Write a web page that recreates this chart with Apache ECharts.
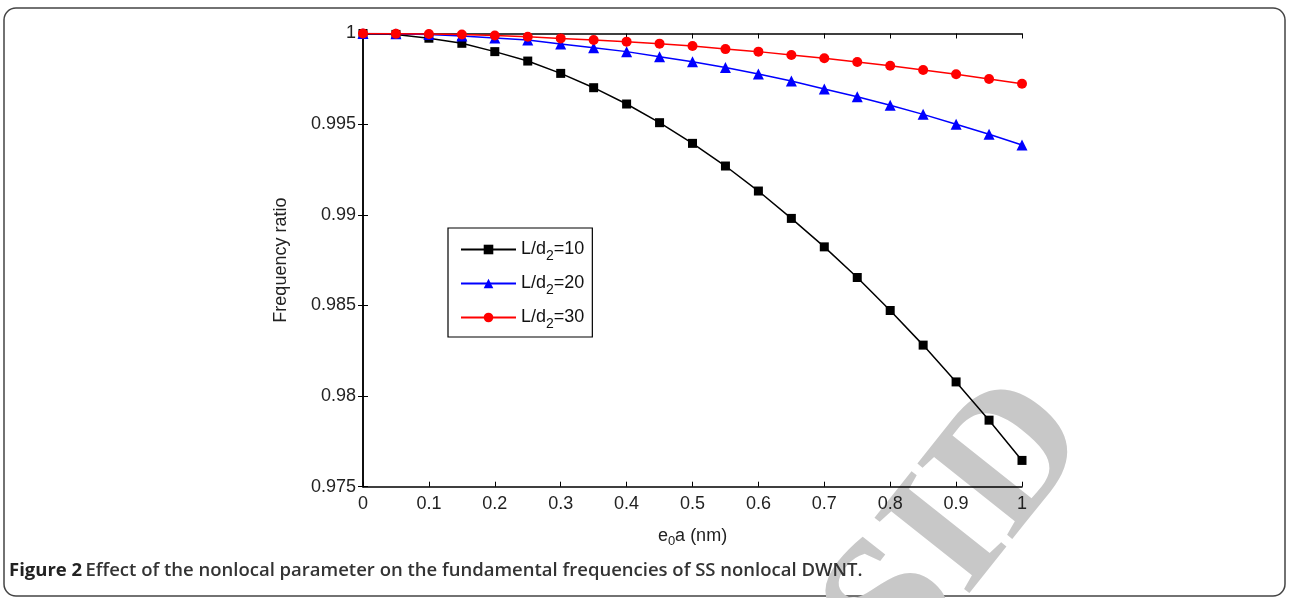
<!DOCTYPE html>
<html>
<head>
<meta charset="utf-8">
<script src="https://cdn.jsdelivr.net/npm/echarts@6/dist/echarts.min.js"></script>
<style>
  html, body { margin: 0; padding: 0; background: #fff; }
  #chart { width: 1289px; height: 598px; }
</style>
</head>
<body>
<div id="chart"></div>
<script>
// e0a (nm)
const xs = [0, 0.05, 0.1, 0.15, 0.2, 0.25, 0.3, 0.35, 0.4, 0.45, 0.5,
            0.55, 0.6, 0.65, 0.7, 0.75, 0.8, 0.85, 0.9, 0.95, 1];
// frequency ratio, L/d2 = 10
const ratio10 = [1, 0.99995, 0.99974, 0.99946, 0.99900, 0.99848, 0.99780, 0.99701, 0.99611, 0.99508, 0.99394,
                 0.99269, 0.99131, 0.98980, 0.98823, 0.98654, 0.98472, 0.98281, 0.98078, 0.97867, 0.97645];
// L/d2 = 20
const ratio20 = [1, 0.99998, 0.99994, 0.99986, 0.99975, 0.99964, 0.99942, 0.99922, 0.99900, 0.99872, 0.99844,
                 0.99813, 0.99776, 0.99738, 0.99694, 0.99651, 0.99604, 0.99554, 0.99499, 0.99444, 0.99385];
// L/d2 = 30
const ratio30 = [1, 0.99999, 0.99997, 0.99994, 0.99989, 0.99982, 0.99973, 0.99964, 0.99955, 0.99944, 0.99931,
                 0.99914, 0.99900, 0.99881, 0.99863, 0.99843, 0.99822, 0.99799, 0.99775, 0.99749, 0.99723];
const seriesNames = ['L/d2=10', 'L/d2=20', 'L/d2=30'];
const legendLabels = ['{a|L/d}{s|2}{a|=10}', '{a|L/d}{s|2}{a|=20}', '{a|L/d}{s|2}{a|=30}'];

const font = 'Liberation Sans, Arial, sans-serif';
const pairs = (ys) => xs.map((x, i) => [x, ys[i]]);

let chart = echarts.init(document.getElementById('chart'));

const axisCommon = {
    axisLine: { show: true, lineStyle: { color: '#000', width: 1.5 } },
    axisTick: { show: true, inside: true, length: 5, lineStyle: { color: '#000', width: 1 } },
    splitLine: { show: false }
};

const lineSeries = (name, ys, color, symbol, size) => ({
    name: name,
    type: 'line',
    data: pairs(ys),
    symbol: symbol,
    symbolSize: size,
    showSymbol: true,
    z: 3,
    lineStyle: { color: color, width: 1.5 },
    itemStyle: { color: color },
    animation: false
});

chart.setOption({
    animation: false,
    backgroundColor: '#fff',
    grid: { left: 363, right: 267, top: 33.5, bottom: 111.3 },
    legend: {
        orient: 'vertical',
        left: 448,
        top: 228,
        padding: [8, 8, 6, 12],
        borderColor: '#000',
        borderWidth: 1.2,
        backgroundColor: '#fff',
        itemWidth: 55,
        itemHeight: 12,
        itemGap: 7,
        data: seriesNames,
        formatter: (name) => legendLabels[seriesNames.indexOf(name)],
        textStyle: {
            color: '#111',
            fontFamily: font,
            fontSize: 18,
            lineHeight: 20,
            rich: {
                a: { fontFamily: font, fontSize: 18, color: '#111', lineHeight: 20 },
                s: { fontFamily: font, fontSize: 14, color: '#111', padding: [13, 0, 0, 0], lineHeight: 20 }
            }
        }
    },
    xAxis: [
        Object.assign({
            type: 'value', min: 0, max: 1, interval: 0.1, position: 'bottom',
            name: '{a|e}{s|0}{a|a (nm)}', nameLocation: 'middle', nameGap: 37,
            nameTextStyle: {
                rich: {
                    a: { fontFamily: font, fontSize: 18, color: '#222' },
                    s: { fontFamily: font, fontSize: 13, color: '#222', padding: [11, 0, 0, 0] }
                }
            },
            axisLabel: {
                color: '#222', fontFamily: font, fontSize: 18, margin: 8,
                formatter: (v) => String(parseFloat(v.toFixed(2)))
            }
        }, axisCommon),
        Object.assign({
            type: 'value', min: 0, max: 1, interval: 0.1, position: 'top',
            axisLabel: { show: false }
        }, axisCommon)
    ],
    yAxis: [
        Object.assign({
            type: 'value', min: 0.975, max: 1, interval: 0.005, position: 'left',
            name: 'Frequency ratio', nameLocation: 'middle', nameGap: 73,
            nameTextStyle: { fontFamily: font, fontSize: 18, color: '#222' },
            axisLabel: {
                color: '#222', fontFamily: font, fontSize: 18, margin: 7,
                formatter: (v) => String(parseFloat(v.toFixed(3)))
            }
        }, axisCommon),
        Object.assign({
            type: 'value', min: 0.975, max: 1, interval: 0.005, position: 'right',
            axisLabel: { show: false }
        }, axisCommon)
    ],
    series: [
        lineSeries(seriesNames[0], ratio10, '#000', 'rect', 9),
        lineSeries(seriesNames[1], ratio20, '#0000ff', 'triangle', 11),
        lineSeries(seriesNames[2], ratio30, '#ff0000', 'circle', 10)
    ],
    graphic: [
        {
            type: 'rect', z: -10, silent: true,
            shape: { x: 4, y: 8, width: 1281, height: 588, r: 12 },
            style: { fill: 'none', stroke: '#444', lineWidth: 1.5 }
        },
        {
            type: 'text', z: -5, silent: true,
            x: 960, y: 528, rotation: 0.9,
            style: {
                text: 'SID', fill: '#c8c8c8', fontFamily: 'Liberation Serif, serif',
                fontSize: 185, fontWeight: 'bold', align: 'center', verticalAlign: 'middle'
            }
        },
        {
            type: 'text', silent: true,
            left: 9, top: 561,
            style: {
                text: '{b|Figure 2} {r|Effect of the nonlocal parameter on the fundamental frequencies of SS nonlocal DWNT.}',
                rich: {
                    b: { fontFamily: 'Open Sans, sans-serif', fontSize: 18.5, fontWeight: 'bold', fill: '#222' },
                    r: { fontFamily: 'Open Sans, sans-serif', fontSize: 18.5, fontWeight: 600, fill: '#333' }
                }
            }
        }
    ]
});
</script>
</body>
</html>
